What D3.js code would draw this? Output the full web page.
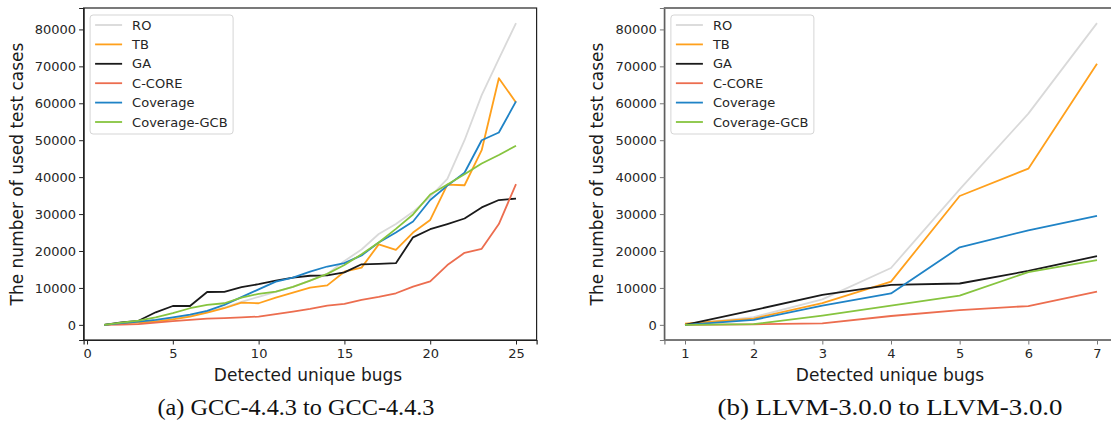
<!DOCTYPE html>
<html>
<head>
  <meta charset="utf-8">
  <title>Detected unique bugs vs used test cases</title>
  <script src="https://cdnjs.cloudflare.com/ajax/libs/d3/7.8.5/d3.min.js"></script>
  <style>
    body { margin: 0; background: #fff; }
    svg { display: block; }
    .tick text { font-family: "DejaVu Sans", sans-serif; font-size: 13px; fill: #262626; }
    .axis-label { font-family: "DejaVu Sans", sans-serif; font-size: 17px; fill: #1a1a1a; }
    .caption { font-family: "Liberation Serif", "Times New Roman", serif; font-size: 22.5px; fill: #111; }
    .legend text { font-family: "DejaVu Sans", sans-serif; font-size: 13px; fill: #262626; }
    .series { fill: none; stroke-width: 1.8px; stroke-linejoin: round; }
  </style>
</head>
<body>
<svg id="chart" width="1111" height="425"></svg>
<script>
// series names + colours
var names = ["RO", "TB", "GA", "C-CORE", "Coverage", "Coverage-GCB"];
var colors = ["#d9d9d9", "#ffa01c", "#1a1a1a", "#ec6d4f", "#1f83c6", "#86c43f"];

// (a) GCC-4.4.3, bugs 1..25
var gccBugs = d3.range(1, 26);
var gccRO = [0, 500, 800, 1200, 1800, 2600, 3500, 4700, 6200, 7600, 8900, 10300, 12000, 13800,
  17300, 20400, 24600, 27300, 30600, 34700, 39500, 50000, 62200, 72000, 81700];
var gccTB = [0, 450, 630, 900, 1500, 2250, 3300, 4500, 6000, 5850, 7400, 8700, 10100, 10700,
  14400, 15500, 21800, 20300, 25000, 28400, 38000, 37800, 47300, 66800, 60200];
var gccGA = [0, 700, 1100, 3400, 5100, 5100, 8900, 8950, 10200, 11000, 12000, 12800, 13300, 13400,
  14200, 16400, 16500, 16700, 23700, 25900, 27300, 28800, 31800, 33800, 34200];
var gccCCORE = [0, 100, 200, 600, 1000, 1350, 1700, 1800, 2000, 2250, 2900, 3600, 4300, 5200,
  5700, 6750, 7550, 8550, 10350, 11800, 16200, 19500, 20600, 27300, 38100];
var gccCoverage = [0, 450, 900, 1350, 2050, 2800, 3800, 5400, 7500, 9600, 11700, 12800, 14400, 15800,
  16700, 18800, 22300, 25000, 28000, 33800, 37700, 41200, 50000, 52100, 60500];
var gccGCB = [0, 630, 1150, 2000, 3150, 4500, 5400, 5850, 7400, 8400, 9000, 10300, 12000, 13800,
  16200, 19100, 22300, 26000, 29900, 35300, 38000, 40800, 43700, 46000, 48500];

// (b) LLVM-3.0.0, bugs 1..7
var llvmBugs = [1, 2, 3, 4, 5, 6, 7];
var llvmRO = [200, 2100, 6900, 15400, 36700, 57200, 81700];
var llvmTB = [300, 1700, 5900, 11700, 34900, 42300, 70700];
var llvmGA = [0, 4000, 8100, 10800, 11200, 14600, 18600];
var llvmCCORE = [0, 150, 400, 2400, 4000, 5100, 9000];
var llvmCoverage = [0, 1350, 5200, 8500, 21000, 25600, 29500];
var llvmGCB = [0, 200, 2500, 5200, 7900, 14300, 17500];

var yTicks = d3.range(0, 80001, 10000);

var svg = d3.select("#chart");

function drawPanel(opt) {
  var x = d3.scaleLinear().domain(opt.xDomain).range([opt.left, opt.right]);
  var y = d3.scaleLinear().domain([-4100, 85800]).range([340, 8]);
  var g = svg.append("g");

  // frame
  g.append("rect")
    .attr("x", opt.left).attr("y", 8)
    .attr("width", opt.right - opt.left).attr("height", 332)
    .attr("fill", "none").attr("stroke", "#222").attr("stroke-width", 1.2);

  var xAxis = g.append("g")
    .attr("transform", "translate(0,340)")
    .call(d3.axisBottom(x).tickValues(opt.xTicks).tickFormat(d3.format("d")).tickSize(4.5).tickPadding(4));
  var yAxis = g.append("g")
    .attr("transform", "translate(" + opt.left + ",0)")
    .call(d3.axisLeft(y).tickValues(yTicks).tickFormat(d3.format("d")).tickSize(4.5).tickPadding(3));
  [xAxis, yAxis].forEach(a => {
    a.select(".domain").attr("stroke", opt.spine).attr("stroke-width", 1.2);
    a.selectAll(".tick line").attr("stroke", opt.spine).attr("stroke-width", 1);
  });

  var line = d3.line().x((d, i) => x(opt.bugs[i])).y(d => y(d));
  g.selectAll("path.series")
    .data(opt.series)
    .enter()
    .append("path")
    .attr("class", "series")
    .attr("stroke", (d, i) => colors[i])
    .attr("d", d => line(d));

  // legend
  var lg = g.append("g").attr("class", "legend").attr("transform", "translate(" + (opt.left + 6.5) + ",15)");
  lg.append("rect")
    .attr("width", 143).attr("height", 119).attr("rx", 3)
    .attr("fill", "#fff").attr("fill-opacity", 0.85)
    .attr("stroke", "#d5d5d5").attr("stroke-width", 1);
  var rows = lg.selectAll("g.row").data(names).enter().append("g")
    .attr("class", "row")
    .attr("transform", (d, i) => "translate(0," + (10 + i * 19.4) + ")");
  rows.append("line")
    .attr("x1", 5).attr("x2", 32).attr("y1", 0).attr("y2", 0)
    .attr("stroke", (d, i) => colors[i]).attr("stroke-width", 1.8);
  rows.append("text")
    .attr("x", 42).attr("y", 4.5)
    .text(d => d);

  g.append("text").attr("class", "axis-label")
    .attr("x", opt.xlabelX).attr("y", 381).attr("text-anchor", "middle")
    .text("Detected unique bugs");
  g.append("text").attr("class", "axis-label")
    .attr("transform", "translate(" + opt.ylabelX + ",174) rotate(-90)")
    .attr("text-anchor", "middle")
    .text("The number of used test cases");
  // caption is stretched a bit wider in the original figure
  g.append("text").attr("class", "caption")
    .attr("x", opt.captionX).attr("y", 415).attr("text-anchor", "middle")
    .attr("textLength", opt.captionW).attr("lengthAdjust", "spacingAndGlyphs")
    .text(opt.caption);
}

drawPanel({
  left: 83.6, right: 536.6, xDomain: [-0.2, 26.2], xTicks: [0, 5, 10, 15, 20, 25],
  bugs: gccBugs, series: [gccRO, gccTB, gccGA, gccCCORE, gccCoverage, gccGCB],
  spine: "#222", xlabelX: 308, ylabelX: 23, captionX: 296, captionW: 277,
  caption: "(a) GCC-4.4.3 to GCC-4.4.3"
});
drawPanel({
  left: 664.4, right: 1117.6, xDomain: [0.7, 7.3], xTicks: llvmBugs,
  bugs: llvmBugs, series: [llvmRO, llvmTB, llvmGA, llvmCCORE, llvmCoverage, llvmGCB],
  spine: "#777", xlabelX: 890, ylabelX: 603, captionX: 890, captionW: 345,
  caption: "(b) LLVM-3.0.0 to LLVM-3.0.0"
});
</script>
</body>
</html>
